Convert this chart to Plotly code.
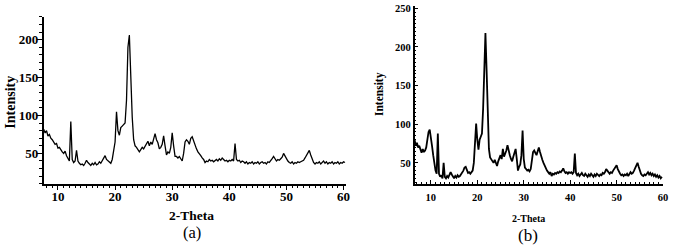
import numpy as np
import plotly.graph_objects as go

# ---------------- data ----------------
# Panel (a): 2-theta grid 7.5 .. 60.25 step 0.25
theta_a = np.round(np.arange(7.5, 60.26, 0.25), 2)
intensity_a = [
    82, 77, 80, 73, 75, 70, 68, 64, 62, 63, 57, 58, 54, 52, 50, 53, 47, 44, 40, 92,      # 7.5-12.25
    42, 38, 40, 54, 40, 37, 35, 36, 34, 37, 41, 38, 36, 34, 37, 35, 38, 35, 36, 39,      # 12.5-17.25
    37, 40, 43, 47, 42, 40, 38, 37, 42, 52, 65, 105, 80, 74, 84, 86, 88, 90, 120, 190,   # 17.5-22.25
    206, 150, 98, 68, 60, 58, 55, 52, 55, 58, 56, 60, 63, 66, 60, 65, 62, 70, 76, 68,    # 22.5-27.25
    64, 56, 58, 62, 73, 60, 48, 52, 50, 58, 77, 60, 46, 46, 44, 46, 42, 40, 50, 65,      # 27.5-32.25
    68, 66, 62, 70, 72, 66, 60, 56, 52, 50, 47, 44, 42, 38, 40, 39, 42, 40, 41, 39,      # 32.5-37.25
    40, 42, 40, 43, 41, 44, 42, 40, 41, 39, 41, 40, 42, 40, 63, 42, 40, 41, 38, 40,      # 37.5-42.25
    39, 37, 39, 36, 38, 37, 39, 36, 38, 37, 39, 36, 38, 39, 37, 38, 36, 39, 38, 40,      # 42.5-47.25
    43, 46, 42, 40, 42, 41, 43, 45, 50, 46, 43, 40, 38, 37, 39, 36, 38, 37, 39, 38,      # 47.5-52.25
    39, 40, 41, 44, 47, 50, 54, 48, 42, 38, 36, 38, 37, 39, 36, 38, 40, 37, 39, 36,      # 52.5-57.25
    38, 37, 39, 36, 38, 37, 39, 36, 38, 37, 39, 38,                                      # 57.5-60.25
]

# Panel (b): 2-theta grid 6.5 .. 59.75 step 0.25
theta_b = np.round(np.arange(6.5, 59.76, 0.25), 2)
intensity_b = [
    80, 72, 76, 70, 72, 66, 63, 68, 64, 66, 70, 80, 90, 93, 85, 72, 60, 48, 40, 36,      # 6.5-11.25
    88, 36, 32, 34, 30, 50, 32, 30, 33, 31, 34, 38, 35, 32, 30, 33, 31, 34, 32, 33,      # 11.5-16.25
    35, 37, 40, 44, 45, 41, 37, 38, 36, 38, 40, 50, 75, 101, 80, 67, 80, 84, 88, 120,    # 16.5-21.25
    180, 218, 170, 105, 68, 57, 55, 52, 50, 54, 48, 46, 52, 55, 60, 55, 68, 58, 62, 66,  # 21.5-26.25
    73, 65, 60, 55, 52, 58, 62, 68, 55, 40, 45, 48, 60, 92, 55, 44, 42, 40, 41, 39,      # 26.5-31.25
    42, 55, 64, 66, 62, 60, 65, 70, 64, 58, 54, 50, 46, 44, 40, 38, 36, 38, 33, 36,      # 31.5-36.25
    35, 37, 36, 38, 37, 39, 38, 40, 43, 39, 37, 38, 36, 38, 37, 38, 36, 38, 62, 37,      # 36.5-41.25
    34, 36, 33, 35, 37, 34, 33, 36, 34, 32, 35, 33, 36, 34, 32, 35, 33, 36, 34, 33,      # 41.5-46.25
    35, 34, 37, 36, 38, 42, 40, 37, 36, 38, 37, 40, 42, 44, 47, 42, 38, 36, 34, 35,      # 46.5-51.25
    33, 35, 34, 36, 33, 35, 38, 36, 37, 40, 44, 48, 50, 45, 40, 36, 34, 33, 35, 34,      # 51.5-56.25
    36, 38, 35, 37, 34, 36, 33, 35, 32, 34, 31, 33, 30, 32,                              # 56.5-59.75
]

yticks_a = [50, 100, 150, 200]
yticks_b = [50, 100, 150, 200, 250]
xticks = [10, 20, 30, 40, 50, 60]

W, H = 677, 245
serif = "Liberation Serif"

fig = go.Figure()
fig.add_trace(go.Scatter(x=theta_a, y=intensity_a, mode="lines",
                         line=dict(color="black", width=1.3), xaxis="x", yaxis="y",
                         showlegend=False, hoverinfo="skip"))
fig.add_trace(go.Scatter(x=theta_b, y=intensity_b, mode="lines",
                         line=dict(color="black", width=1.8), xaxis="x2", yaxis="y2",
                         showlegend=False, hoverinfo="skip"))

def px_x(p):
    return p / W

def px_y(p):
    return 1 - p / H

axis_common = dict(showline=True, linecolor="black", linewidth=1.5, showgrid=False,
                   zeroline=False, mirror=False, tickcolor="black")

fig.update_layout(
    width=W, height=H,
    margin=dict(l=0, r=0, t=0, b=0),
    paper_bgcolor="white", plot_bgcolor="white",
    xaxis=dict(domain=[px_x(44), px_x(349)], range=[7.5, 60.5], anchor="y",
               tickvals=xticks, ticks="outside", ticklen=4, tickwidth=1.2,
               ticklabelstandoff=-4,
               tickfont=dict(family=serif, size=13, color="black", weight="bold"),
               minor=dict(dtick=1, ticks="outside", ticklen=2.5, tickcolor="black", tickwidth=1),
               **axis_common),
    yaxis=dict(domain=[px_y(183), px_y(14)], range=[10, 230], anchor="x",
               tickvals=yticks_a, ticks="outside", ticklen=5, tickwidth=1.2,
               ticklabelstandoff=-4,
               tickfont=dict(family=serif, size=13, color="black", weight="bold"),
               minor=dict(dtick=10, ticks="outside", ticklen=3, tickcolor="black", tickwidth=1),
               **axis_common),
    xaxis2=dict(domain=[px_x(417.7), px_x(668)], range=[6.5, 60], anchor="y2",
                tickvals=xticks, ticks="inside", ticklen=4, tickwidth=1,
                ticklabelstandoff=3,
                tickfont=dict(family=serif, size=10.5, color="black", weight="bold"),
                minor=dict(dtick=1, ticks="inside", ticklen=2, tickcolor="black", tickwidth=1),
                **axis_common),
    yaxis2=dict(domain=[px_y(183), px_y(3)], range=[23, 253], anchor="x2",
                tickvals=yticks_b, ticks="inside", ticklen=4, tickwidth=1,
                tickfont=dict(family=serif, size=10.5, color="black", weight="bold"),
                minor=dict(dtick=5, ticks="inside", ticklen=2, tickcolor="black", tickwidth=1),
                **axis_common),
)

def ann(text, x, y, size, bold=False, angle=0):
    fig.add_annotation(text=text, x=px_x(x), y=px_y(y), xref="paper", yref="paper",
                       showarrow=False, textangle=angle, xanchor="center", yanchor="middle",
                       font=dict(family=serif, size=size, color="black",
                                 weight="bold" if bold else "normal"))

ann("Intensity", 11, 100, 14, bold=True, angle=-90)
ann("2-Theta", 193, 215, 13.5, bold=True)
ann("(a)", 193, 232, 16.5)
ann("Intensity", 383, 92, 11.5, bold=True, angle=-90)
ann("2-Theta", 532, 218, 10, bold=True)
ann("(b)", 532, 235, 17)

fig.write_html("out.html", config={"displayModeBar": False},
               post_script="document.body.style.margin='0';document.body.style.overflow='hidden';")
